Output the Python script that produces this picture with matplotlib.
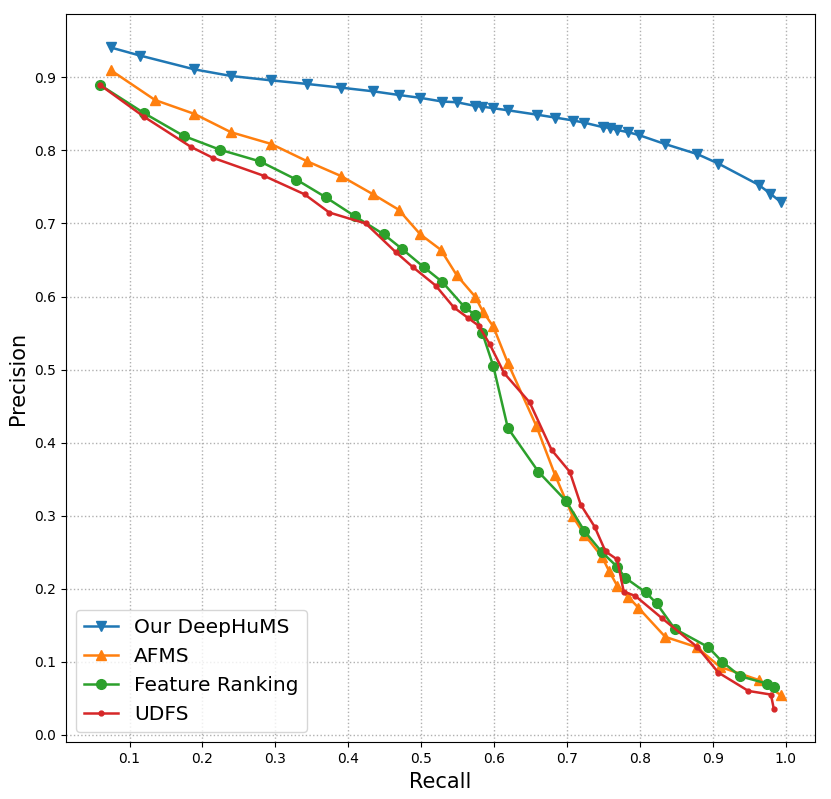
import matplotlib
matplotlib.use("Agg")
import matplotlib.pyplot as plt

# Our DeepHuMS
deep_recall = [0.074, 0.114, 0.189, 0.239, 0.294, 0.344, 0.390, 0.434, 0.469, 0.499,
               0.529, 0.549, 0.574, 0.584, 0.598, 0.619, 0.659, 0.684, 0.709, 0.724,
               0.749, 0.759, 0.769, 0.784, 0.799, 0.834, 0.879, 0.908, 0.963, 0.979, 0.994]
deep_prec = [0.941, 0.930, 0.911, 0.902, 0.896, 0.891, 0.886, 0.881, 0.876, 0.872,
             0.867, 0.866, 0.861, 0.860, 0.858, 0.855, 0.849, 0.845, 0.841, 0.838,
             0.832, 0.831, 0.828, 0.825, 0.821, 0.809, 0.795, 0.782, 0.753, 0.741, 0.729]

# AFMS
afms_recall = [0.074, 0.135, 0.189, 0.239, 0.294, 0.344, 0.390, 0.434, 0.469, 0.499,
               0.527, 0.549, 0.574, 0.585, 0.599, 0.619, 0.658, 0.684, 0.708, 0.724,
               0.748, 0.758, 0.769, 0.784, 0.798, 0.835, 0.878, 0.910, 0.963, 0.994]
afms_prec = [0.910, 0.869, 0.850, 0.825, 0.809, 0.785, 0.765, 0.740, 0.719, 0.685,
             0.664, 0.629, 0.600, 0.579, 0.559, 0.509, 0.423, 0.355, 0.299, 0.274,
             0.244, 0.224, 0.204, 0.189, 0.174, 0.134, 0.120, 0.093, 0.075, 0.054]

# Feature Ranking
fr_recall = [0.059, 0.120, 0.174, 0.224, 0.279, 0.329, 0.369, 0.409, 0.449, 0.474,
             0.504, 0.529, 0.560, 0.574, 0.584, 0.599, 0.619, 0.661, 0.699, 0.724,
             0.748, 0.769, 0.780, 0.808, 0.823, 0.848, 0.894, 0.913, 0.938, 0.975, 0.984]
fr_prec = [0.890, 0.851, 0.820, 0.801, 0.785, 0.760, 0.736, 0.710, 0.685, 0.665,
           0.640, 0.620, 0.585, 0.575, 0.550, 0.505, 0.420, 0.360, 0.320, 0.279,
           0.250, 0.230, 0.215, 0.195, 0.180, 0.145, 0.120, 0.100, 0.080, 0.070, 0.065]

# UDFS
udfs_recall = [0.059, 0.120, 0.184, 0.214, 0.285, 0.340, 0.374, 0.424, 0.465, 0.489,
               0.520, 0.545, 0.564, 0.579, 0.594, 0.614, 0.649, 0.679, 0.704, 0.719,
               0.738, 0.753, 0.769, 0.778, 0.794, 0.830, 0.879, 0.908, 0.949, 0.980, 0.984]
udfs_prec = [0.890, 0.846, 0.805, 0.790, 0.765, 0.740, 0.715, 0.700, 0.661, 0.640,
             0.615, 0.585, 0.571, 0.560, 0.535, 0.495, 0.455, 0.390, 0.360, 0.315,
             0.285, 0.251, 0.240, 0.196, 0.190, 0.160, 0.120, 0.085, 0.060, 0.055, 0.035]

x_ticks = [0.1, 0.2, 0.3, 0.4, 0.5, 0.6, 0.7, 0.8, 0.9, 1.0]
y_ticks = [0.0, 0.1, 0.2, 0.3, 0.4, 0.5, 0.6, 0.7, 0.8, 0.9]

fig = plt.figure(figsize=(8.31, 7.99), dpi=100)
ax = fig.add_axes([0.079, 0.071, 0.902, 0.911])

ax.plot(deep_recall, deep_prec, color="#1f77b4", marker="v", markersize=7, linewidth=1.8, label="Our DeepHuMS")
ax.plot(afms_recall, afms_prec, color="#ff7f0e", marker="^", markersize=7, linewidth=1.8, label="AFMS")
ax.plot(fr_recall, fr_prec, color="#2ca02c", marker="o", markersize=7, linewidth=1.8, label="Feature Ranking")
ax.plot(udfs_recall, udfs_prec, color="#d62728", marker=".", markersize=7, linewidth=1.8, label="UDFS")

ax.set_xticks(x_ticks)
ax.set_yticks(y_ticks)
ax.set_xticklabels([f"{v:.1f}" for v in x_ticks])
ax.set_yticklabels([f"{v:.1f}" for v in y_ticks])
ax.tick_params(labelsize=10)
ax.grid(True, linestyle=":", color="#b0b0b0", linewidth=1)
ax.set_xlabel("Recall", fontsize=15)
ax.set_ylabel("Precision", fontsize=15)
ax.legend(loc="lower left", fontsize=14.5, handlelength=1.7)

fig.savefig("out.png", dpi=100)
